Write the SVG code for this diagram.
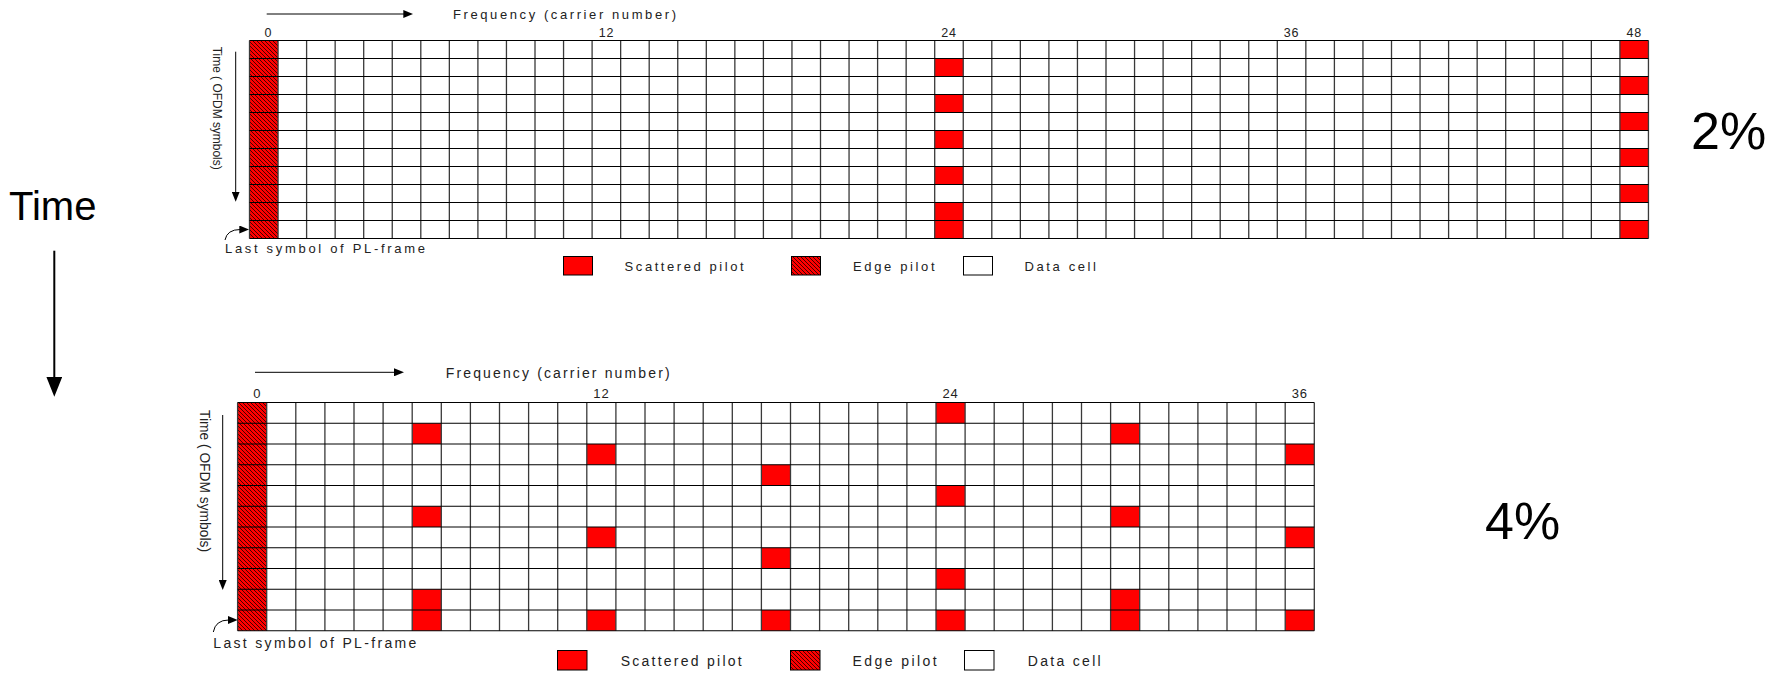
<svg xmlns="http://www.w3.org/2000/svg" width="1787" height="677" viewBox="0 0 1787 677">
<style>
.t{font-family:"Liberation Sans",Arial,sans-serif;fill:#000}
.big{font-size:40px}
.pct{font-size:52px}
.num{font-size:12.5px;text-anchor:middle;fill:#222;letter-spacing:0.8px}
.numb{font-size:13px;text-anchor:middle;fill:#222;letter-spacing:0.8px}
.sm{font-size:13px;fill:#222}
.smb{font-size:14px;fill:#222}
.vl{stroke:#3a3a3a;stroke-width:1.3;fill:none}
.hl{stroke:#000;stroke-width:1;fill:none}
.pilot{fill:#ff0000}
.edge{fill:url(#hatch)}
.leg{stroke:#000;stroke-width:1}
.ar{stroke:#000;stroke-width:1;fill:none}
.arb{stroke:#000;stroke-width:2;fill:none}
</style>
<defs>
<pattern id="hatch" patternUnits="userSpaceOnUse" width="4" height="4">
<rect width="4" height="4" fill="#ff0000"/>
<path d="M-1,-1 L5,5 M-1,3 L1,5 M3,-1 L5,1" stroke="#200" stroke-width="0.85"/>
</pattern>
<marker id="ah" markerUnits="userSpaceOnUse" markerWidth="10" markerHeight="8" refX="1" refY="4" orient="auto">
<path d="M0,0 L10,4 L0,8 z" fill="#000"/>
</marker>
<marker id="ahb" markerUnits="userSpaceOnUse" markerWidth="20" markerHeight="16" refX="2" refY="8" orient="auto">
<path d="M0,0 L20,8 L0,16 z" fill="#000"/>
</marker>
</defs>
<rect width="1787" height="677" fill="#fff"/>

<g id="time-axis">
<text class="t big" x="9" y="220">Time</text>
</g>

<g id="label-2pct"><text class="t pct" x="1691" y="149">2%</text></g>
<g id="label-4pct"><text class="t pct" x="1485" y="539">4%</text></g>

<g id="grid-2pct">
<rect x="249.5" y="40.5" width="1398.95" height="198" fill="#fff"/>
<rect class="edge" x="249.5" y="40.5" width="28.55" height="198"/>
<g class="pilot">
<rect x="934.7" y="58.5" width="28.55" height="18"/>
<rect x="934.7" y="94.5" width="28.55" height="18"/>
<rect x="934.7" y="130.5" width="28.55" height="18"/>
<rect x="934.7" y="166.5" width="28.55" height="18"/>
<rect x="934.7" y="202.5" width="28.55" height="36"/>
<rect x="1619.9" y="40.5" width="28.55" height="18"/>
<rect x="1619.9" y="76.5" width="28.55" height="18"/>
<rect x="1619.9" y="112.5" width="28.55" height="18"/>
<rect x="1619.9" y="148.5" width="28.55" height="18"/>
<rect x="1619.9" y="184.5" width="28.55" height="18"/>
<rect x="1619.9" y="220.5" width="28.55" height="18"/>
</g>
<path class="vl" d="M249.5,40.5V238.5M278.05,40.5V238.5M306.6,40.5V238.5M335.15,40.5V238.5M363.7,40.5V238.5M392.25,40.5V238.5M420.8,40.5V238.5M449.35,40.5V238.5M477.9,40.5V238.5M506.45,40.5V238.5M535,40.5V238.5M563.55,40.5V238.5M592.1,40.5V238.5M620.65,40.5V238.5M649.2,40.5V238.5M677.75,40.5V238.5M706.3,40.5V238.5M734.85,40.5V238.5M763.4,40.5V238.5M791.95,40.5V238.5M820.5,40.5V238.5M849.05,40.5V238.5M877.6,40.5V238.5M906.15,40.5V238.5M934.7,40.5V238.5M963.25,40.5V238.5M991.8,40.5V238.5M1020.35,40.5V238.5M1048.9,40.5V238.5M1077.45,40.5V238.5M1106,40.5V238.5M1134.55,40.5V238.5M1163.1,40.5V238.5M1191.65,40.5V238.5M1220.2,40.5V238.5M1248.75,40.5V238.5M1277.3,40.5V238.5M1305.85,40.5V238.5M1334.4,40.5V238.5M1362.95,40.5V238.5M1391.5,40.5V238.5M1420.05,40.5V238.5M1448.6,40.5V238.5M1477.15,40.5V238.5M1505.7,40.5V238.5M1534.25,40.5V238.5M1562.8,40.5V238.5M1591.35,40.5V238.5M1619.9,40.5V238.5M1648.45,40.5V238.5"/>
<path class="hl" d="M249.5,40.5H1648.45M249.5,58.5H1648.45M249.5,76.5H1648.45M249.5,94.5H1648.45M249.5,112.5H1648.45M249.5,130.5H1648.45M249.5,148.5H1648.45M249.5,166.5H1648.45M249.5,184.5H1648.45M249.5,202.5H1648.45M249.5,220.5H1648.45M249.5,238.5H1648.45"/>
<text class="t num" x="268.5" y="37.3">0</text>
<text class="t num" x="606.4" y="37.3">12</text>
<text class="t num" x="949" y="37.3">24</text>
<text class="t num" x="1291.6" y="37.3">36</text>
<text class="t num" x="1634.2" y="37.3">48</text>
<text class="t sm" x="453" y="19.3" textLength="223" lengthAdjust="spacing">Frequency (carrier number)</text>
<text class="t sm" transform="translate(212.5,46.7) rotate(90)" textLength="123" lengthAdjust="spacingAndGlyphs">Time ( OFDM symbols)</text>
<text class="t sm" x="225" y="253.3" textLength="200" lengthAdjust="spacing">Last symbol of PL-frame</text>
</g>

<g id="legend-2pct">
<rect class="pilot leg" x="563.5" y="256.5" width="29" height="18.5"/>
<text class="t sm" x="624.6" y="270.5" textLength="119" lengthAdjust="spacing">Scattered pilot</text>
<rect class="edge leg" x="791.5" y="256.5" width="29" height="18.5"/>
<text class="t sm" x="853" y="270.5" textLength="81.5" lengthAdjust="spacing">Edge pilot</text>
<rect class="leg" fill="#fff" x="963.5" y="256.5" width="29" height="18.5"/>
<text class="t sm" x="1024.5" y="270.5" textLength="71.5" lengthAdjust="spacing">Data cell</text>
</g>

<g id="grid-4pct">
<rect x="237.6" y="402.5" width="1076.7" height="228.25" fill="#fff"/>
<rect class="edge" x="237.6" y="402.5" width="29.1" height="228.25"/>
<g class="pilot">
<rect x="412.2" y="423.25" width="29.1" height="20.75"/>
<rect x="412.2" y="506.25" width="29.1" height="20.75"/>
<rect x="412.2" y="589.25" width="29.1" height="41.5"/>
<rect x="586.8" y="444" width="29.1" height="20.75"/>
<rect x="586.8" y="527" width="29.1" height="20.75"/>
<rect x="586.8" y="610" width="29.1" height="20.75"/>
<rect x="761.4" y="464.75" width="29.1" height="20.75"/>
<rect x="761.4" y="547.75" width="29.1" height="20.75"/>
<rect x="761.4" y="610" width="29.1" height="20.75"/>
<rect x="936" y="402.5" width="29.1" height="20.75"/>
<rect x="936" y="485.5" width="29.1" height="20.75"/>
<rect x="936" y="568.5" width="29.1" height="20.75"/>
<rect x="936" y="610" width="29.1" height="20.75"/>
<rect x="1110.6" y="423.25" width="29.1" height="20.75"/>
<rect x="1110.6" y="506.25" width="29.1" height="20.75"/>
<rect x="1110.6" y="589.25" width="29.1" height="41.5"/>
<rect x="1285.2" y="444" width="29.1" height="20.75"/>
<rect x="1285.2" y="527" width="29.1" height="20.75"/>
<rect x="1285.2" y="610" width="29.1" height="20.75"/>
</g>
<path class="vl" d="M237.6,402.5V630.75M266.7,402.5V630.75M295.8,402.5V630.75M324.9,402.5V630.75M354,402.5V630.75M383.1,402.5V630.75M412.2,402.5V630.75M441.3,402.5V630.75M470.4,402.5V630.75M499.5,402.5V630.75M528.6,402.5V630.75M557.7,402.5V630.75M586.8,402.5V630.75M615.9,402.5V630.75M645,402.5V630.75M674.1,402.5V630.75M703.2,402.5V630.75M732.3,402.5V630.75M761.4,402.5V630.75M790.5,402.5V630.75M819.6,402.5V630.75M848.7,402.5V630.75M877.8,402.5V630.75M906.9,402.5V630.75M936,402.5V630.75M965.1,402.5V630.75M994.2,402.5V630.75M1023.3,402.5V630.75M1052.4,402.5V630.75M1081.5,402.5V630.75M1110.6,402.5V630.75M1139.7,402.5V630.75M1168.8,402.5V630.75M1197.9,402.5V630.75M1227,402.5V630.75M1256.1,402.5V630.75M1285.2,402.5V630.75M1314.3,402.5V630.75"/>
<path class="hl" d="M237.6,402.5H1314.3M237.6,423.25H1314.3M237.6,444H1314.3M237.6,464.75H1314.3M237.6,485.5H1314.3M237.6,506.25H1314.3M237.6,527H1314.3M237.6,547.75H1314.3M237.6,568.5H1314.3M237.6,589.25H1314.3M237.6,610H1314.3M237.6,630.75H1314.3"/>
<text class="t numb" x="257.3" y="398.3">0</text>
<text class="t numb" x="601.4" y="398.3">12</text>
<text class="t numb" x="950.5" y="398.3">24</text>
<text class="t numb" x="1299.8" y="398.3">36</text>
<text class="t smb" x="445.7" y="378.3" textLength="224" lengthAdjust="spacing">Frequency (carrier number)</text>
<text class="t smb" transform="translate(199.5,410) rotate(90)" textLength="142" lengthAdjust="spacingAndGlyphs">Time ( OFDM symbols)</text>
<text class="t smb" x="213.3" y="648.3" textLength="203" lengthAdjust="spacing">Last symbol of PL-frame</text>
</g>

<g id="legend-4pct">
<rect class="pilot leg" x="557.5" y="650.5" width="29.5" height="19.5"/>
<text class="t smb" x="620.7" y="665.5" textLength="121" lengthAdjust="spacing">Scattered pilot</text>
<rect class="edge leg" x="790.5" y="650.5" width="29.5" height="19.5"/>
<text class="t smb" x="852.6" y="665.5" textLength="84" lengthAdjust="spacing">Edge pilot</text>
<rect class="leg" fill="#fff" x="964.5" y="650.5" width="29.5" height="19.5"/>
<text class="t smb" x="1027.7" y="665.5" textLength="73" lengthAdjust="spacing">Data cell</text>
</g>

<g id="connectors">
<line class="arb" x1="54.3" y1="250.7" x2="54.3" y2="378.7" marker-end="url(#ahb)"/>
<line class="ar" x1="266.7" y1="14" x2="404.3" y2="14" marker-end="url(#ah)"/>
<line class="ar" x1="235.7" y1="51.7" x2="235.7" y2="192.7" marker-end="url(#ah)"/>
<path class="ar" d="M225,240 Q227,229.5 240.3,229.5" marker-end="url(#ah)"/>
<line class="ar" x1="255" y1="372.3" x2="395" y2="372.3" marker-end="url(#ah)"/>
<line class="ar" x1="222.7" y1="415" x2="222.7" y2="581" marker-end="url(#ah)"/>
<path class="ar" d="M213.3,632 Q215.5,620 228.7,620" marker-end="url(#ah)"/>
</g>
</svg>
